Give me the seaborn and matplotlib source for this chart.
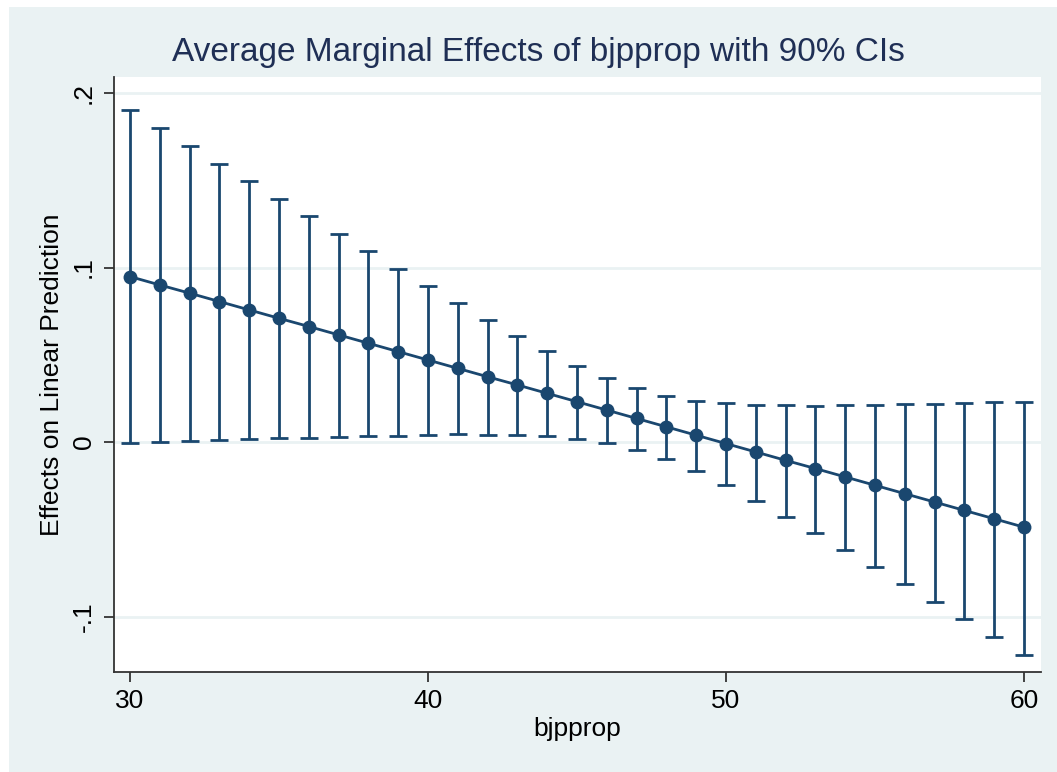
import matplotlib
matplotlib.use("Agg")
import matplotlib.pyplot as plt
import seaborn as sns
import pandas as pd
from matplotlib.patches import Rectangle

# ---- data ----
bjpprop = list(range(30, 61))
effect = [0.0948, 0.0900, 0.0853, 0.0805, 0.0757, 0.0709, 0.0662, 0.0614, 0.0566, 0.0518,
          0.0470, 0.0422, 0.0374, 0.0327, 0.0279, 0.0231, 0.0183, 0.0135, 0.0087, 0.0039,
          -0.0009, -0.0057, -0.0105, -0.0152, -0.0200, -0.0248, -0.0296, -0.0344, -0.0392,
          -0.0440, -0.0488]
ci_upper = [0.1902, 0.1799, 0.1697, 0.1596, 0.1495, 0.1393, 0.1294, 0.1193, 0.1092, 0.0992,
            0.0894, 0.0799, 0.0702, 0.0610, 0.0520, 0.0438, 0.0367, 0.0308, 0.0266, 0.0237,
            0.0222, 0.0214, 0.0210, 0.0208, 0.0210, 0.0214, 0.0216, 0.0217, 0.0223, 0.0227,
            0.0232]
ci_lower = [-0.0006, 0.0002, 0.0006, 0.0011, 0.0015, 0.0021, 0.0025, 0.0031, 0.0033, 0.0037,
            0.0040, 0.0044, 0.0042, 0.0040, 0.0034, 0.0017, -0.0004, -0.0044, -0.0097, -0.0166,
            -0.0249, -0.0338, -0.0428, -0.0523, -0.0620, -0.0719, -0.0816, -0.0915, -0.1017,
            -0.1118, -0.1219]
x_ticks = [30, 40, 50, 60]
y_ticks = [-0.1, 0, 0.1, 0.2]
y_ticklabels = ["-.1", "0", ".1", ".2"]

title = "Average Marginal Effects of bjpprop with 90% CIs"
xlabel = "bjpprop"
ylabel = "Effects on Linear Prediction"

df = pd.DataFrame({"bjpprop": bjpprop, "effect": effect,
                   "lo": ci_lower, "hi": ci_upper})

sns.set_theme(style="white")
plt.rcParams["font.family"] = ["Liberation Sans", "DejaVu Sans"]

navy = "#1a476f"
bg = "#eaf2f3"

fig = plt.figure(figsize=(10.57, 7.72), dpi=100)
fig.patch.set_facecolor("white")
fig.patches.append(Rectangle((9 / 1057, 0), 1 - 9 / 1057, 1 - 7 / 772,
                             transform=fig.transFigure, facecolor=bg,
                             edgecolor="none", zorder=-10))

ax = fig.add_axes([114 / 1057, 1 - 672 / 772, (1041 - 114) / 1057, (672 - 77) / 772])
ax.set_facecolor("white")

# grid lines
for yv in y_ticks:
    ax.axhline(yv, color=bg, lw=2.0, zorder=0)

# CIs
ax.errorbar(df["bjpprop"], df["effect"],
            yerr=[df["effect"] - df["lo"], df["hi"] - df["effect"]],
            fmt="none", ecolor=navy, elinewidth=2.0, capsize=6.5, capthick=2.0, zorder=2)

sns.lineplot(data=df, x="bjpprop", y="effect", ax=ax, color=navy, lw=2.0,
             marker="o", markersize=10, markeredgewidth=0, zorder=3)

ax.set_xlim(29.46, 60.57)
ax.set_ylim(-0.1318, 0.2092)
ax.set_xticks(x_ticks)
ax.set_xticklabels([str(v) for v in x_ticks], fontsize=19)
ax.set_yticks(y_ticks)
ax.set_yticklabels(y_ticklabels, fontsize=19, rotation=90, va="center")

for s in ["top", "right"]:
    ax.spines[s].set_visible(False)
for s in ["left", "bottom"]:
    ax.spines[s].set_color("#333333")
    ax.spines[s].set_linewidth(1.3)
ax.tick_params(axis="both", which="major", direction="out", length=7, width=1.3,
               color="#333333", labelcolor="black", bottom=True, left=True)
ax.tick_params(axis="x", pad=5)
ax.tick_params(axis="y", pad=6)

ax.set_xlabel(xlabel, fontsize=19, color="black", labelpad=3)
ax.set_ylabel(ylabel, fontsize=19, color="black", labelpad=6)

fig.text(0.5095, 1 - 53 / 772, title, ha="center", va="center", fontsize=24,
         color="#1f2f55")

fig.savefig("out.png", dpi=100, facecolor=fig.get_facecolor())
